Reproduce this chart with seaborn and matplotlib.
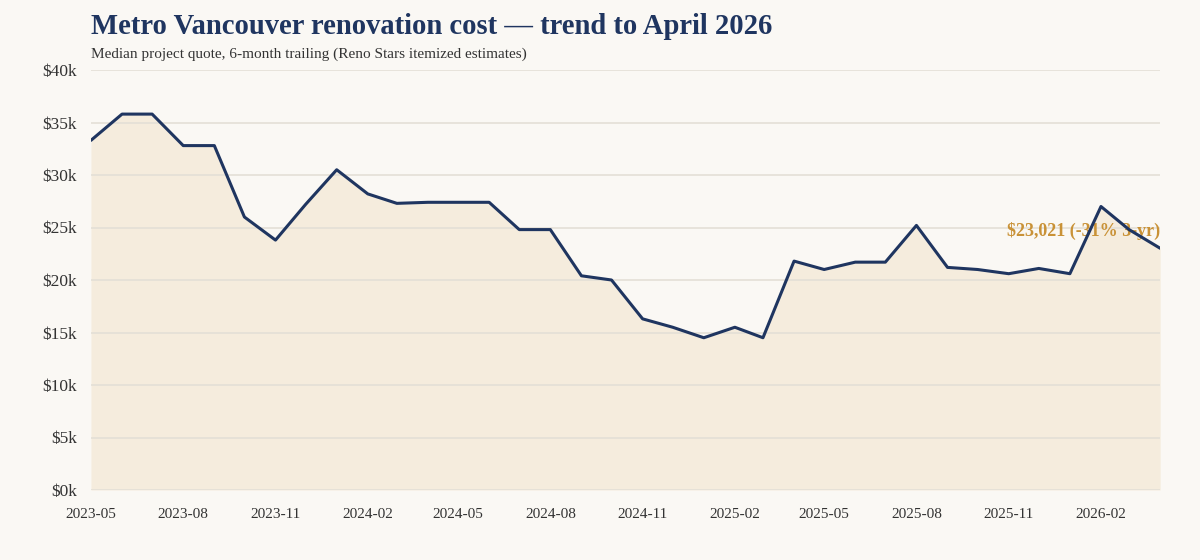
import pandas as pd
import numpy as np
import matplotlib
matplotlib.use("Agg")
import matplotlib.pyplot as plt
import seaborn as sns

# Monthly median quote, 6-month trailing
months = pd.date_range("2023-05-01", "2026-04-01", freq="MS")
median_quote = [
    33300, 35800, 35800, 32800, 32800, 26000, 23800, 27200, 30500, 28200,
    27300, 27400, 27400, 27400, 24800, 24800, 20400, 20000, 16300, 15500,
    14500, 15500, 14500, 21800, 21000, 21700, 21700, 25200, 21200, 21000,
    20600, 21100, 20600, 27000, 24800, 23021,
]
tick_every = 3
y_ticks = [0, 5000, 10000, 15000, 20000, 25000, 30000, 35000, 40000]

title = "Metro Vancouver renovation cost \u2014 trend to April 2026"
subtitle = "Median project quote, 6-month trailing (Reno Stars itemized estimates)"
note = "$23,021 (-31% 3-yr)"

df = pd.DataFrame({"month": months, "quote": median_quote})

# ----------------------------
# Style
# ----------------------------
bg = "#faf8f4"
navy = "#1f3560"
fill = "#f5ecdd"
grid = "#e4dfd6"
gold = "#c99237"
text = "#333333"

sns.set_theme(style="white")
plt.rcParams["font.family"] = ["Liberation Serif", "DejaVu Serif"]

fig = plt.figure(figsize=(12, 5.6), dpi=100, facecolor=bg)
ax = fig.add_axes([0.0758, 0.125, 0.891, 0.75])
ax.set_facecolor(bg)

ax.fill_between(df["month"], df["quote"], 0, color=fill, zorder=1, linewidth=0)
sns.lineplot(data=df, x="month", y="quote", color=navy, linewidth=2.2, ax=ax, zorder=4)

ax.set_xlim(months[0], months[-1])
ax.set_ylim(0, 40000)
ax.set_yticks(y_ticks)
ax.set_yticklabels([f"${v // 1000}k" for v in y_ticks])
ax.set_xticks(months[::tick_every])
ax.set_xticklabels([m.strftime("%Y-%m") for m in months[::tick_every]])

for v in y_ticks:
    ax.axhline(v, color=grid, linewidth=1.2, zorder=2)

for s in ax.spines.values():
    s.set_visible(False)
ax.tick_params(axis="both", length=0, colors=text)
ax.tick_params(axis="y", labelsize=12.5, pad=10)
ax.tick_params(axis="x", labelsize=11, pad=13)
ax.set_xlabel("")
ax.set_ylabel("")

ax.text(months[-1], median_quote[-1] + 800, note, ha="right", va="bottom",
        color=gold, fontsize=13, fontweight="bold", zorder=3)

fig.text(0.0758, 0.953, title, ha="left", va="center", color=navy,
         fontsize=20.6, fontweight="bold")
fig.text(0.0758, 0.904, subtitle, ha="left", va="center", color=text, fontsize=11)

plt.savefig("out.png", dpi=100, facecolor=bg)
